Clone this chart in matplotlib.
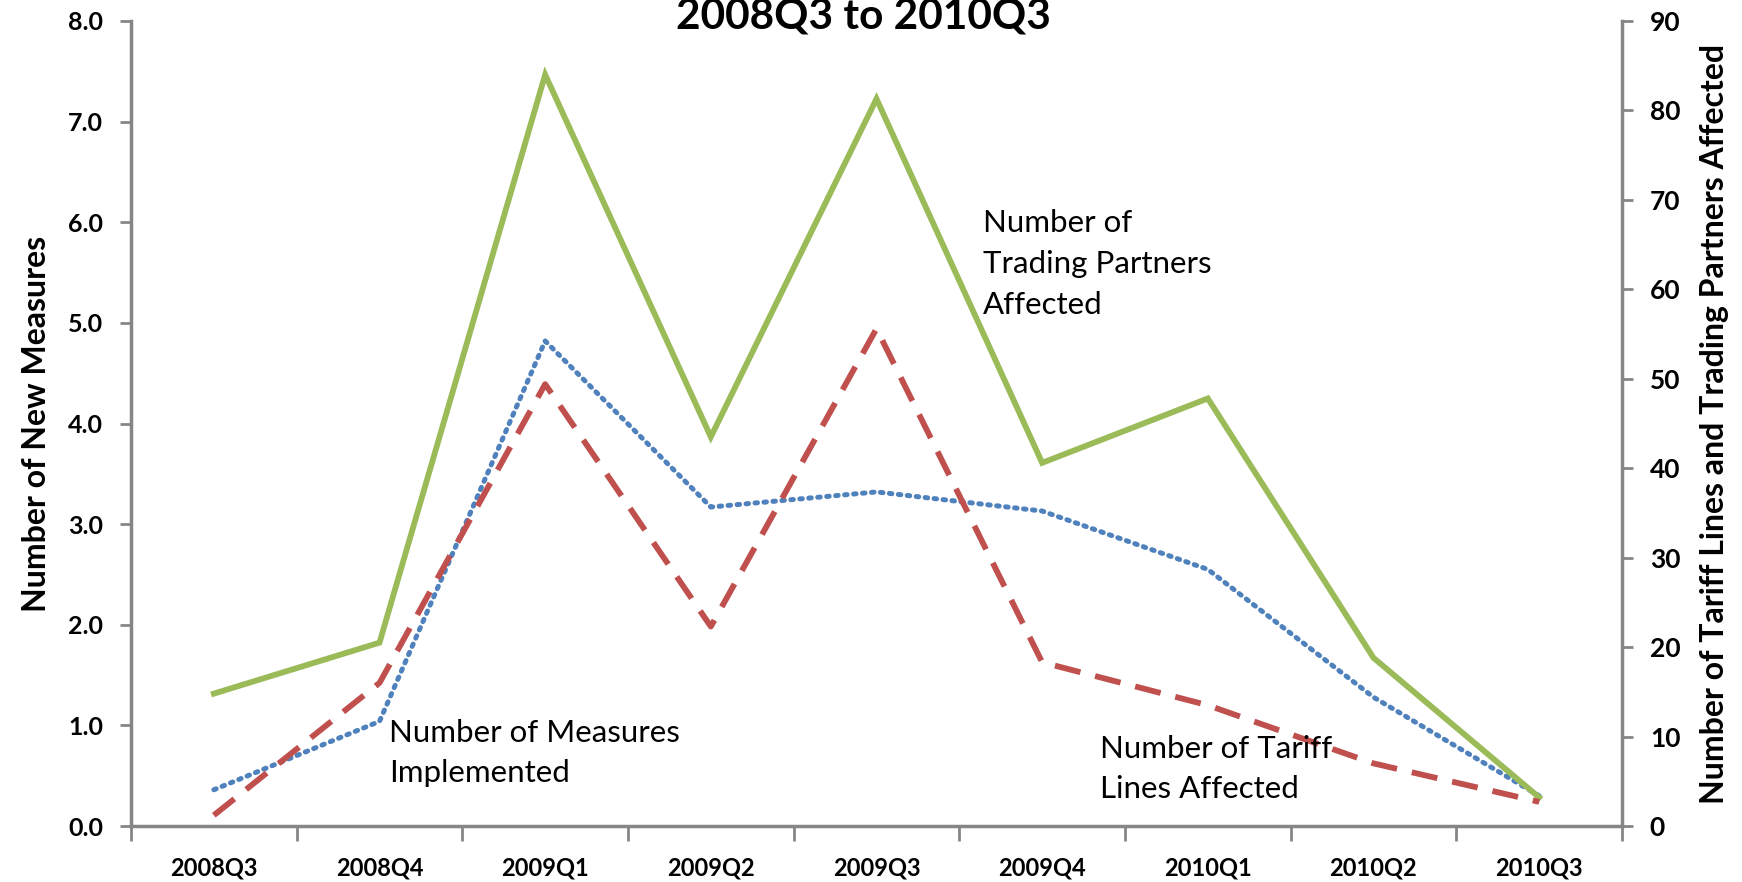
import matplotlib
matplotlib.use("Agg")
import matplotlib.pyplot as plt
from matplotlib.ticker import FixedLocator, NullFormatter, FormatStrFormatter

quarters = ["2008Q3", "2008Q4", "2009Q1", "2009Q2", "2009Q3",
            "2009Q4", "2010Q1", "2010Q2", "2010Q3"]
measures = [0.36, 1.04, 4.82, 3.17, 3.32, 3.13, 2.55, 1.28, 0.30]
partners = [14.8, 20.5, 84.0, 43.5, 81.3, 40.6, 47.8, 18.8, 3.2]
tariff_lines = [1.2, 16.0, 49.4, 22.3, 55.6, 18.3, 13.5, 7.0, 2.7]

plt.rcParams['font.family'] = ['Lato', 'DejaVu Sans']

GREEN = "#9BBB59"
BLUE = "#4F81BD"
RED = "#C0504D"
AXC = "#868686"

fig = plt.figure(figsize=(17.42, 8.82), dpi=100)
ax = fig.add_axes([131/1742, 1-826/882, (1622-131)/1742, (826-21)/882])
ax2 = ax.twinx()

x = list(range(len(quarters)))
ax.plot(x, measures, color=BLUE, lw=3.6, linestyle=(0, (0.5, 1.3)),
        dash_capstyle='round', zorder=3)
ax2.plot(x, partners, color=GREEN, lw=4.2, solid_joinstyle='miter', zorder=2)
ax2.plot(x, tariff_lines, color=RED, lw=4.2, linestyle=(0, (4.5, 2.6)), zorder=4)

ax.set_xlim(-0.5, len(quarters) - 0.5)
ax.set_ylim(0, 8)
ax2.set_ylim(0, 90)

ax.set_yticks([i * 1.0 for i in range(9)])
ax.yaxis.set_major_formatter(FormatStrFormatter('%.1f'))
ax2.set_yticks(list(range(0, 91, 10)))

ax.set_xticks(x)
ax.set_xticklabels(quarters)
ax.xaxis.set_minor_locator(FixedLocator([i - 0.5 for i in range(len(quarters) + 1)]))
ax.xaxis.set_minor_formatter(NullFormatter())
ax.tick_params(axis='x', which='major', length=0, pad=22, labelsize=17)
ax.tick_params(axis='x', which='minor', length=11, width=2, color=AXC, direction='out')
ax.tick_params(axis='y', length=8, width=2, color=AXC, labelsize=18, pad=12)
ax2.tick_params(axis='y', length=8, width=2, color=AXC, labelsize=19, pad=12)
for lab in ax.get_xticklabels() + ax.get_yticklabels() + ax2.get_yticklabels():
    lab.set_fontweight('bold')

for a in (ax, ax2):
    a.spines['top'].set_visible(False)
    for s in ('left', 'right', 'bottom'):
        a.spines[s].set_color(AXC)
        a.spines[s].set_linewidth(2.5)
ax.spines['right'].set_visible(False)
ax2.spines['left'].set_visible(False)
ax2.spines['bottom'].set_visible(False)

ax.set_ylabel("Number of New Measures", fontsize=23, fontweight='bold', labelpad=12)
ax2.set_ylabel("Number of Tariff Lines and Trading Partners Affected",
               fontsize=23, fontweight='bold', labelpad=14)

fig.text(863/1742, 1 - 28/882, "2008Q3 to 2010Q3", ha='center', va='baseline',
         fontsize=30.5, fontweight='bold')

fs = 22.5
fig.text(389/1742, 1 - 753/882, "Number of Measures\nImplemented", ha='left', va='center',
         fontsize=fs, linespacing=1.55)
fig.text(983/1742, 1 - 264/882, "Number of\nTrading Partners\nAffected", ha='left', va='center',
         fontsize=fs, linespacing=1.55)
fig.text(1100/1742, 1 - 769/882, "Number of Tariff\nLines Affected", ha='left', va='center',
         fontsize=fs, linespacing=1.55)

fig.savefig("out.png", dpi=100)
